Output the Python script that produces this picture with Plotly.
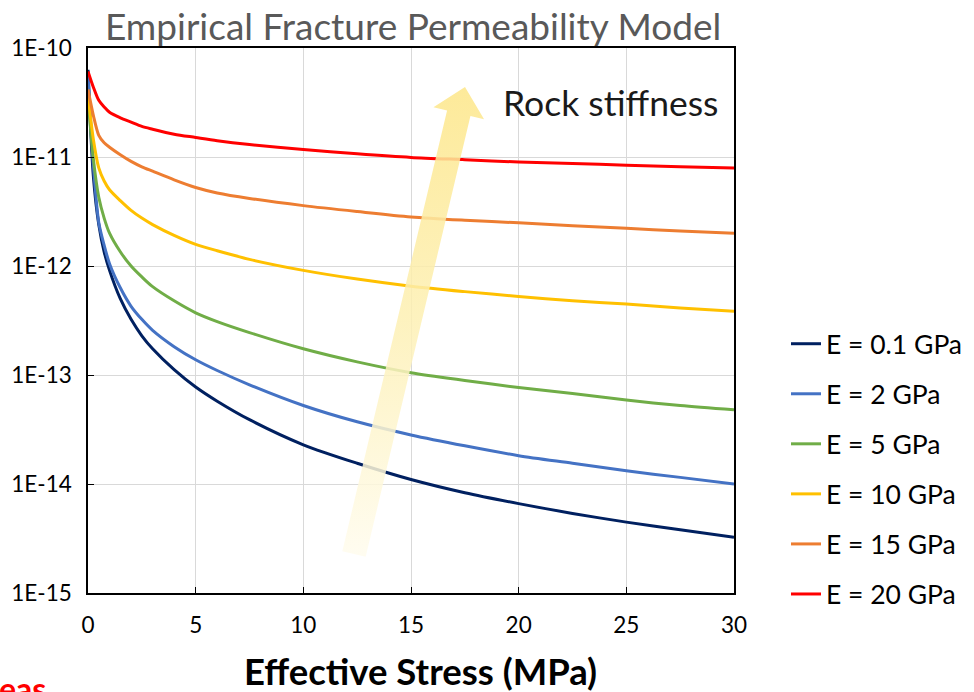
import plotly.graph_objects as go

# Effective stress grid (MPa)
stress_mpa = [0, 0.25, 0.5, 0.75, 1, 1.5, 2, 2.5, 3, 4, 5, 6, 7.5,
              10, 12.5, 15, 17.5, 20, 22.5, 25, 27.5, 30]

# Fracture permeability (m^2) for each Young's modulus
perm_e_0_1 = [6.31e-11, 6.61e-12, 2.40e-12, 1.35e-12, 9.12e-13, 5.01e-13, 3.24e-13,
              2.29e-13, 1.74e-13, 1.12e-13, 7.76e-14, 5.75e-14, 3.89e-14, 2.29e-14,
              1.55e-14, 1.10e-14, 8.32e-15, 6.61e-15, 5.37e-15, 4.47e-15, 3.80e-15, 3.24e-15]
perm_e_2 = [5.89e-11, 8.32e-12, 2.51e-12, 1.55e-12, 1.05e-12, 6.31e-13, 4.27e-13,
            3.24e-13, 2.57e-13, 1.82e-13, 1.38e-13, 1.10e-13, 8.13e-14, 5.25e-14,
            3.72e-14, 2.82e-14, 2.24e-14, 1.82e-14, 1.55e-14, 1.32e-14, 1.15e-14, 1.00e-14]
perm_e_5 = [3.55e-11, 9.55e-12, 4.27e-12, 2.75e-12, 2.00e-12, 1.35e-12, 1.00e-12,
            7.94e-13, 6.46e-13, 4.79e-13, 3.72e-13, 3.09e-13, 2.45e-13, 1.74e-13,
            1.32e-13, 1.05e-13, 8.91e-14, 7.67e-14, 6.76e-14, 5.89e-14, 5.25e-14, 4.79e-14]
perm_e_10 = [3.72e-11, 1.45e-11, 7.94e-12, 6.03e-12, 5.01e-12, 3.98e-12, 3.24e-12,
             2.75e-12, 2.40e-12, 1.91e-12, 1.58e-12, 1.38e-12, 1.15e-12, 9.12e-13,
             7.59e-13, 6.53e-13, 5.82e-13, 5.25e-13, 4.79e-13, 4.47e-13, 4.12e-13, 3.85e-13]
perm_e_15 = [4.17e-11, 2.40e-11, 1.58e-11, 1.35e-11, 1.23e-11, 1.05e-11, 9.12e-12,
             8.13e-12, 7.41e-12, 6.17e-12, 5.25e-12, 4.68e-12, 4.17e-12, 3.58e-12,
             3.16e-12, 2.82e-12, 2.63e-12, 2.49e-12, 2.34e-12, 2.22e-12, 2.09e-12, 2.00e-12]
perm_e_20 = [6.10e-11, 4.37e-11, 3.31e-11, 2.88e-11, 2.57e-11, 2.29e-11, 2.09e-11,
             1.91e-11, 1.80e-11, 1.62e-11, 1.51e-11, 1.41e-11, 1.30e-11, 1.17e-11,
             1.07e-11, 9.91e-12, 9.44e-12, 8.99e-12, 8.71e-12, 8.41e-12, 8.13e-12, 7.94e-12]

series_labels = ["E = 0.1 GPa", "E = 2 GPa", "E = 5 GPa",
                 "E = 10 GPa", "E = 15 GPa", "E = 20 GPa"]
series_values = [perm_e_0_1, perm_e_2, perm_e_5, perm_e_10, perm_e_15, perm_e_20]
series_colors = ["#002060", "#4472C4", "#70AD47", "#FFC000", "#ED7D31", "#FF0000"]

x_tick_vals = [0, 5, 10, 15, 20, 25, 30]
y_tick_vals = [1e-15, 1e-14, 1e-13, 1e-12, 1e-11, 1e-10]
y_tick_text = ["1E-15", "1E-14", "1E-13", "1E-12", "1E-11", "1E-10"]

# Canvas and plot-area geometry (pixels)
W, H = 974, 692
PL, PR, PT, PB = 88, 734, 48, 593
FONT = "Lato"


def px_x(x):
    return x / W


def px_y(y):
    return 1 - y / H


fig = go.Figure()

for label, vals, color in zip(series_labels, series_values, series_colors):
    fig.add_trace(go.Scatter(
        x=stress_mpa, y=vals, name=label, mode="lines",
        line=dict(color=color, width=3, shape="spline", smoothing=0.8),
        legendgroup=label, xaxis="x", yaxis="y",
    ))

# "Rock stiffness" arrow, drawn on a full-canvas overlay in pixel units
tip = (465.0, 87.0)
base = (354.0, 554.0)
shaft_half, head_half, head_len = 12.0, 26.0, 27.0
dx, dy = tip[0] - base[0], tip[1] - base[1]
length = (dx ** 2 + dy ** 2) ** 0.5
ux, uy = dx / length, dy / length
nx, ny = -uy, ux
hx, hy = tip[0] - head_len * ux, tip[1] - head_len * uy
outline = [
    (base[0] - shaft_half * nx, base[1] - shaft_half * ny),
    (hx - shaft_half * nx, hy - shaft_half * ny),
    (hx - head_half * nx, hy - head_half * ny),
    tip,
    (hx + head_half * nx, hy + head_half * ny),
    (hx + shaft_half * nx, hy + shaft_half * ny),
    (base[0] + shaft_half * nx, base[1] + shaft_half * ny),
]
outline.append(outline[0])
fig.add_trace(go.Scatter(
    x=[p[0] for p in outline], y=[H - p[1] for p in outline],
    mode="lines", fill="toself", line=dict(width=0, color="rgba(0,0,0,0)"),
    fillgradient=dict(
        type="vertical",
        colorscale=[[0, "rgba(255,252,238,0.85)"], [0.5, "rgba(253,240,180,0.85)"],
                    [1, "rgba(253,231,140,0.88)"]],
        start=H - 557, stop=H - 87,
    ),
    showlegend=False, hoverinfo="skip", xaxis="x2", yaxis="y2",
))

fig.update_layout(
    width=W, height=H,
    margin=dict(l=0, r=0, t=0, b=0, pad=0, autoexpand=False),
    paper_bgcolor="white", plot_bgcolor="rgba(0,0,0,0)",
    font=dict(family=FONT, color="#000000"),
    xaxis=dict(
        domain=[px_x(PL), px_x(PR)], range=[0, 30],
        tickvals=x_tick_vals, tickfont=dict(size=22.5, color="#000000"),
        showgrid=True, gridcolor="#D9D9D9", gridwidth=1,
        showline=True, linecolor="#000000", linewidth=1.5, mirror=True,
        ticks="inside", ticklen=6, tickcolor="#000000",
        ticklabelstandoff=11, zeroline=False, automargin=False,
    ),
    yaxis=dict(
        domain=[px_y(PB), px_y(PT)], type="log", range=[-15, -10],
        tickvals=y_tick_vals, ticktext=y_tick_text,
        tickfont=dict(size=22.5, color="#000000"),
        showgrid=True, gridcolor="#D9D9D9", gridwidth=1,
        showline=True, linecolor="#000000", linewidth=1.5, mirror=True,
        ticks="inside", ticklen=6, tickcolor="#000000",
        ticklabelstandoff=10, zeroline=False, automargin=False,
    ),
    xaxis2=dict(domain=[0, 1], range=[0, W], visible=False, fixedrange=True, anchor="y2"),
    yaxis2=dict(domain=[0, 1], range=[0, H], visible=False, fixedrange=True, anchor="x2"),
    legend=dict(
        x=px_x(786), y=px_y(320), xanchor="left", yanchor="top",
        font=dict(size=26.5, color="#000000", family=FONT),
        tracegroupgap=12.6, bgcolor="rgba(0,0,0,0)", traceorder="grouped",
    ),
    showlegend=True,
)

fig.add_annotation(
    text="Empirical Fracture Permeability Model", xref="paper", yref="paper",
    x=px_x(413), y=px_y(25), xanchor="center", yanchor="middle", showarrow=False,
    font=dict(size=37, color="#595959", family=FONT),
)
fig.add_annotation(
    text="Rock stiffness", xref="paper", yref="paper",
    x=px_x(610), y=px_y(103), xanchor="center", yanchor="middle", showarrow=False,
    font=dict(size=35.5, color="#1A1A1A", family=FONT),
)
fig.add_annotation(
    text="<b>Effective Stress (MPa)</b>", xref="paper", yref="paper",
    x=px_x(420), y=px_y(671), xanchor="center", yanchor="middle", showarrow=False,
    font=dict(size=36.5, color="#000000", family=FONT),
)
fig.add_annotation(
    text="<b>eas</b>", xref="paper", yref="paper",
    x=px_x(-3), y=px_y(667), xanchor="left", yanchor="top", showarrow=False,
    font=dict(size=32, color="#FF0000", family=FONT),
)

fig.write_html("out.html")
